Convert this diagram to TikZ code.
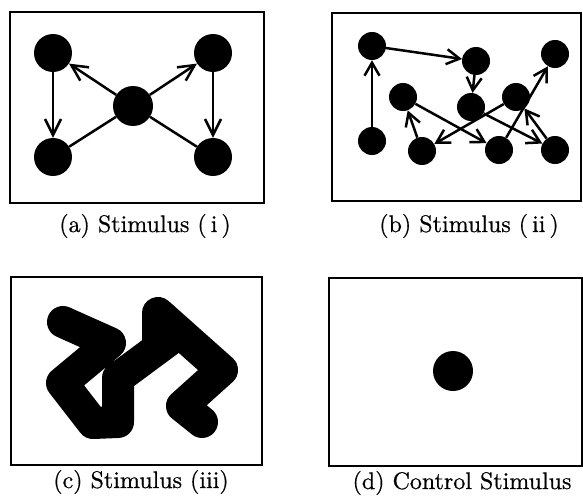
\documentclass[tikz,border=0pt]{standalone}
\usepackage{fontspec}
\newfontfamily\capfont[FakeBold=0.6]{lmroman10-regular.otf}
\usetikzlibrary{arrows.meta}
\begin{document}
\begin{tikzpicture}[x=1pt,y=-1pt,
  frame/.style={draw=black,line width=1.5pt},
  bigdot/.style={circle,fill=black,inner sep=0pt,minimum size=38pt},
  smalldot/.style={circle,fill=black,inner sep=0pt,minimum size=28pt},
  conn/.style={line width=2.5pt},
  arra/.style={conn,-{Straight Barb[length=16pt,width=16pt]}},
  arrb/.style={conn,-{Straight Barb[length=13pt,width=15pt]}},
  blob/.style={line width=32pt,line cap=round,line join=round},
  captext/.style={font=\capfont\fontsize{24}{28}\selectfont,inner sep=0pt}]
\useasboundingbox (0,0) rectangle (583,500);
% frames
\node[frame,minimum width=254pt,minimum height=191pt,inner sep=0pt] (fa) at (137,107.5) {};
\node[frame,minimum width=249pt,minimum height=188pt,inner sep=0pt] (fb) at (456.5,107) {};
\node[frame,minimum width=251pt,minimum height=188pt,inner sep=0pt] (fc) at (136.5,371) {};
\node[frame,minimum width=253pt,minimum height=188pt,inner sep=0pt] (fd) at (455.5,372) {};
% captions
\node[captext] (ca) at (145,226) {(a) Stimulus (\,i\,)};
\node[captext] (cb) at (469,226) {(b) Stimulus (\,ii\,)};
\node[captext] (cc) at (141,482) {(c) Stimulus (iii)};
\node[captext] (cd) at (462,483) {(d) Control Stimulus};
% (a)
\node[bigdot] (a1) at (53,53) {};
\node[bigdot] (a2) at (213,53) {};
\node[bigdot,minimum size=40pt] (a0) at (133,106) {};
\node[bigdot] (a3) at (53,157) {};
\node[bigdot] (a4) at (213,157) {};
\draw[arra] (a0) -- (a1);
\draw[arra] (a0) -- (a2);
\draw[arra] (a1) -- (a3);
\draw[arra] (a2) -- (a4);
\draw[conn] (a0) -- (a3);
\draw[conn] (a0) -- (a4);
% (b)
\node[smalldot] (bA) at (372,46) {};
\node[smalldot] (bB) at (476,61) {};
\node[smalldot] (bC) at (555,54) {};
\node[smalldot] (bD) at (403,97) {};
\node[smalldot] (bE) at (471,107) {};
\node[smalldot] (bF) at (516,97) {};
\node[smalldot] (bG) at (372,141) {};
\node[smalldot] (bH) at (422,151) {};
\node[smalldot] (bI) at (499,150) {};
\node[smalldot] (bJ) at (555,150) {};
\draw[arrb] (bG) -- (bA);
\draw[arrb] (bA) -- (bB);
\draw[arrb] (bB) -- (bE);
\draw[arrb] (bD) -- (bI);
\draw[arrb] (bH) -- (bD);
\draw[arrb] (bF) -- (bH);
\draw[arrb] (bE) -- (bJ);
\draw[arrb] (bI) -- (bC);
\draw[arrb] (bJ) -- (bF);
% (c)
\coordinate (c1) at (63,322);
\coordinate (c2) at (110,343);
\coordinate (c3) at (62,383);
\coordinate (c4) at (93,423);
\coordinate (c5) at (118,422);
\coordinate (c6) at (118,378);
\coordinate (c8) at (172,338);
\coordinate (c7) at (158,313);
\coordinate (c7b) at (158,346);
\coordinate (c9) at (222,370);
\coordinate (c10) at (182,406);
\coordinate (c11) at (202,422);
\draw[blob] (c1) -- (c2) -- (c3) -- (c4) -- (c5) -- (c6) -- (c8);
\draw[blob] (c7b) -- (c7) -- (c9) -- (c10) -- (c11);
% (d)
\node[bigdot,minimum size=40pt] (d0) at (453,371) {};
\end{tikzpicture}
\end{document}
